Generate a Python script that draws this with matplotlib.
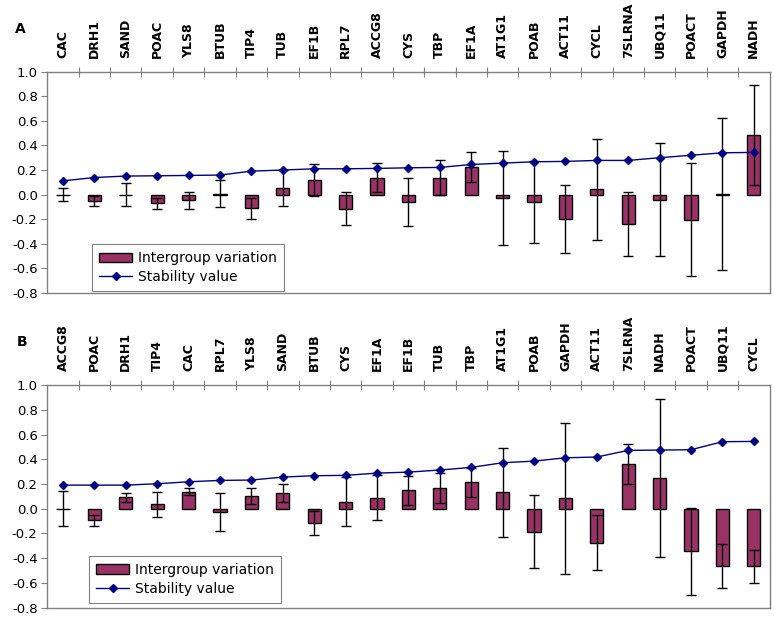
"""Intergroup variation and stability value of candidate reference genes, panels A and B."""
import numpy as np
import matplotlib; matplotlib.use('Agg')
import matplotlib.pyplot as plt
from matplotlib.patches import Patch
from matplotlib.lines import Line2D
from matplotlib.ticker import FixedLocator

plt.rcParams['font.family'] = ['DejaVu Sans']
plt.rcParams['axes.unicode_minus'] = False

# Panel A
genes_a = ['CAC', 'DRH1', 'SAND', 'POAC', 'YLS8', 'BTUB', 'TIP4', 'TUB', 'EF1B', 'RPL7', 'ACCG8', 'CYS',
           'TBP', 'EF1A', 'AT1G1', 'POAB', 'ACT11', 'CYCL', '7SLRNA', 'UBQ11', 'POACT', 'GAPDH', 'NADH']
stab_a = [0.112, 0.139, 0.151, 0.153, 0.156, 0.159, 0.191, 0.200, 0.210, 0.210, 0.213, 0.218,
          0.221, 0.245, 0.256, 0.267, 0.270, 0.278, 0.278, 0.300, 0.320, 0.340, 0.343]
inter_a = [0.0, -0.052, 0.0, -0.072, -0.047, 0.008, -0.112, 0.056, 0.115, -0.113, 0.139, -0.061,
           0.138, 0.224, -0.029, -0.060, -0.197, 0.042, -0.240, -0.042, -0.203, 0.005, 0.487]
err_a = [0.050, 0.043, 0.094, 0.047, 0.072, 0.111, 0.087, 0.145, 0.130, 0.134, 0.114, 0.193,
         0.141, 0.125, 0.380, 0.330, 0.274, 0.411, 0.262, 0.460, 0.459, 0.620, 0.407]

# Panel B
genes_b = ['ACCG8', 'POAC', 'DRH1', 'TIP4', 'CAC', 'RPL7', 'YLS8', 'SAND', 'BTUB', 'CYS', 'EF1A', 'EF1B',
           'TUB', 'TBP', 'AT1G1', 'POAB', 'GAPDH', 'ACT11', '7SLRNA', 'NADH', 'POACT', 'UBQ11', 'CYCL']
stab_b = [0.191, 0.191, 0.191, 0.202, 0.218, 0.229, 0.232, 0.256, 0.267, 0.270, 0.288, 0.296,
          0.313, 0.334, 0.372, 0.385, 0.412, 0.418, 0.472, 0.474, 0.477, 0.542, 0.544]
inter_b = [0.0, -0.092, 0.091, 0.036, 0.139, -0.026, 0.102, 0.127, -0.119, 0.057, 0.090, 0.151,
           0.167, 0.215, 0.132, -0.186, 0.084, -0.273, 0.363, 0.248, -0.344, -0.462, -0.465]
err_b = [0.140, 0.044, 0.039, 0.102, 0.026, 0.150, 0.067, 0.075, 0.097, 0.200, 0.180, 0.117,
         0.119, 0.117, 0.361, 0.294, 0.612, 0.226, 0.164, 0.639, 0.354, 0.181, 0.132]

yticks = [-0.8, -0.6, -0.4, -0.2, 0.0, 0.2, 0.4, 0.6, 0.8, 1.0]
ytick_labels = ['-0.8', '-0.6', '-0.4', '-0.2', '0.0', '0.2', '0.4', '0.6', '0.8', '1.0']

BAR = '#993366'; LINE = '#000080'; GRAY = '#808080'


def draw_panel(ax, genes, stab, inter, err, leg_pos):
    x = np.arange(len(genes))
    ax.bar(x, inter, width=0.42, color=BAR, edgecolor='black', lw=1.0, zorder=2)
    ax.errorbar(x, inter, yerr=err, fmt='none', ecolor='black', elinewidth=1.0,
                capsize=3.8, capthick=1.0, zorder=3)
    ax.plot(x, stab, color=LINE, lw=1.0, marker='D', ms=4.5, zorder=4)

    ax.set_xlim(-0.5, len(genes) - 0.5)
    ax.set_ylim(-0.8, 1.0)
    ax.set_yticks(yticks, labels=ytick_labels)
    ax.tick_params(axis='y', direction='out', length=4, color=GRAY, labelsize=9.5,
                   labelcolor='black', pad=3)

    ax.xaxis.tick_top()
    ax.set_xticks(x)
    ax.set_xticklabels(genes, rotation=90, fontsize=9, fontweight='bold')
    ax.tick_params(axis='x', which='major', length=0, pad=10)
    ax.xaxis.set_minor_locator(FixedLocator(np.arange(0.5, len(genes) - 1, 1.0)))
    ax.tick_params(axis='x', which='minor', direction='inout', length=7, color=GRAY, width=0.8)

    for s in ax.spines.values():
        s.set_color(GRAY); s.set_linewidth(1.0)

    handles = [Patch(facecolor=BAR, edgecolor='black', lw=1.0),
               Line2D([], [], color=LINE, lw=1.0, marker='D', ms=4.5)]
    leg = ax.legend(handles, ['Intergroup variation', 'Stability value'], loc='lower left',
                    bbox_to_anchor=leg_pos, borderaxespad=0, fancybox=False, framealpha=1,
                    edgecolor=GRAY, fontsize=10, handlelength=2.4, handletextpad=0.4,
                    labelspacing=0.35, borderpad=0.5)
    leg.get_frame().set_linewidth(0.8)


fig = plt.figure(figsize=(7.75, 6.17), dpi=100)
ax_a = fig.add_axes([0.061, 0.525, 0.932, 0.359])
ax_b = fig.add_axes([0.061, 0.015, 0.932, 0.361])

draw_panel(ax_a, genes_a, stab_a, inter_a, err_a, (0.062, 0.009))
draw_panel(ax_b, genes_b, stab_b, inter_b, err_b, (0.058, 0.022))

fig.text(0.019, 0.953, 'A', fontsize=10, fontweight='bold', va='center')
fig.text(0.022, 0.446, 'B', fontsize=10, fontweight='bold', va='center')

fig.savefig('out.png', dpi=100)
